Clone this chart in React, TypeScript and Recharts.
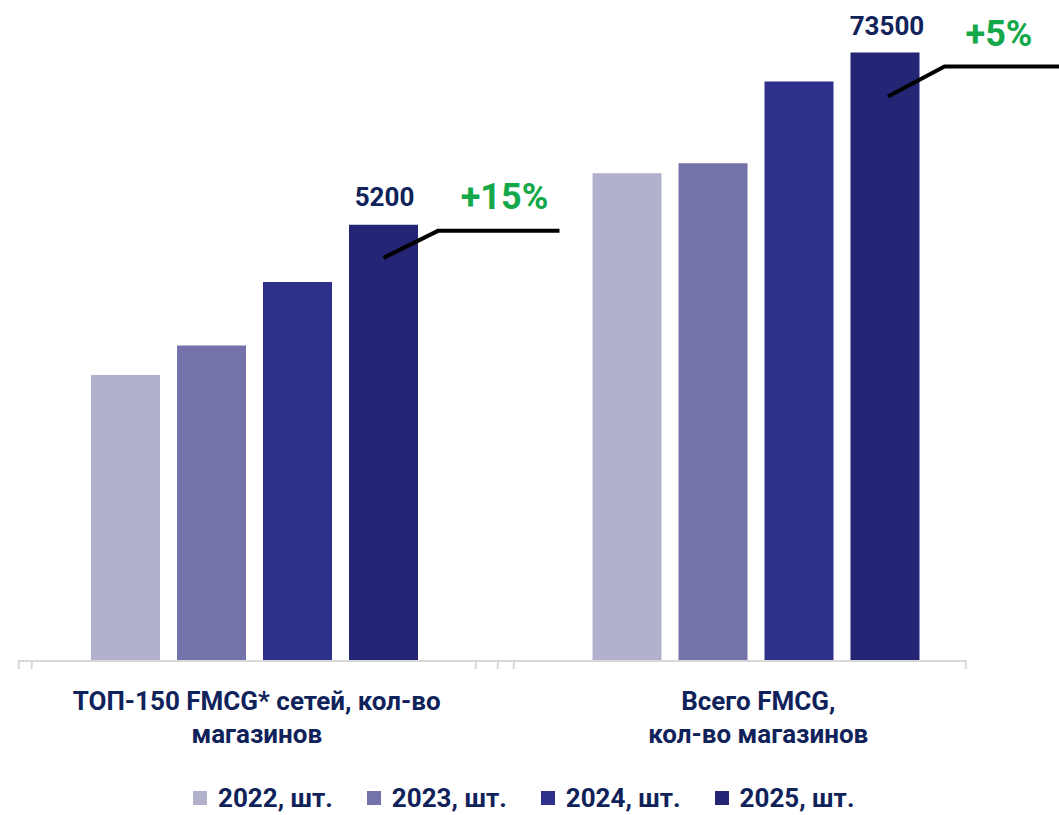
import { BarChart, Bar, XAxis, YAxis, Legend, LabelList } from "recharts";

const categoryLines = [
  ["ТОП-150 FMCG* сетей, кол-во", "магазинов"],
  ["Всего FMCG,", "кол-во магазинов"],
];
const years = ["2022", "2023", "2024", "2025"];
const stores2022 = [3410, 58900];
const stores2023 = [3760, 60100];
const stores2024 = [4520, 70000];
const stores2025 = [5200, 73500];
const growth = ["+15%", "+5%"];
// the TOP-150 group is drawn on a stretched scale in the original slide
const displayScale = [10.13, 1];

const colors = ["#B1B1CD", "#7372AA", "#2F2F8C", "#252575"];
const TEXT = "#0F2259";
const GREEN = "#14A84B";
const FONT = "Roboto, 'Liberation Sans', sans-serif";

const series = [stores2022, stores2023, stores2024, stores2025];

const data = categoryLines.map((lines, i) => {
  const row: Record<string, any> = { name: lines.join(" "), idx: i };
  years.forEach((y, s) => {
    row["v" + y] = series[s][i];
    row["y" + y] = series[s][i] * displayScale[i];
  });
  return row;
});

function CategoryTick(props: any) {
  const { x, y, payload, index } = props;
  const lines = categoryLines[index] ?? [payload.value];
  return (
    <g>
      {index === 0 && (
        <g stroke="#D9D9D9" strokeWidth={2}>
          <line x1={x - 237} x2={x + 712} y1={y} y2={y} />
          {[-236, -223, 221, 243, 259, 711].map((d) => (
            <line key={d} x1={x + d} x2={x + d} y1={y} y2={y + 8} />
          ))}
        </g>
      )}
      <text
        x={x}
        y={y + 49}
        textAnchor="middle"
        fill={TEXT}
        fontSize={26}
        fontWeight={700}
        fontFamily={FONT}
      >
        {lines.map((l, k) => (
          <tspan key={k} x={x + 2} dy={k === 0 ? 0 : 33}>
            {l}
          </tspan>
        ))}
      </text>
    </g>
  );
}

function GrowthLabel(props: any) {
  const { x, y, width, index } = props;
  const cx = x + width / 2;
  const i = index as number;
  const lay =
    i === 0
      ? { vDx: 1, vDy: -19, pDx: 121, pDy: -16, lx0: 0, ly0: 33, lx1: 20, ly1: 6, hEnd: 176 }
      : { vDx: 2, vDy: -17, pDx: 114, pDy: -6, lx0: 3, ly0: 44, lx1: 25, ly1: 14, hEnd: 180 };
  return (
    <g>
      <text
        x={cx + lay.vDx}
        y={y + lay.vDy}
        textAnchor="middle"
        fill={TEXT}
        fontSize={26}
        fontWeight={700}
        fontFamily={FONT}
      >
        {stores2025[i]}
      </text>
      <text
        x={cx + lay.pDx}
        y={y + lay.pDy}
        textAnchor="middle"
        fill={GREEN}
        fontSize={36}
        fontWeight={700}
        fontFamily={FONT}
      >
        {growth[i]}
      </text>
      <polyline
        points={`${cx + lay.lx0},${y + lay.ly0} ${x + width + lay.lx1},${y + lay.ly1} ${cx + lay.hEnd},${y + lay.ly1}`}
        fill="none"
        stroke="#000"
        strokeWidth={4}
      />
    </g>
  );
}

function LegendContent() {
  return (
    <div
      style={{
        display: "flex",
        alignItems: "center",
        height: 40,
        paddingLeft: 189,
        paddingTop: 6,
        boxSizing: "border-box",
        fontFamily: FONT,
        fontWeight: 700,
        fontSize: 26,
        color: TEXT,
      }}
    >
      {years.map((y, s) => (
        <div key={y} style={{ display: "flex", alignItems: "center", marginRight: 34 }}>
          <span
            style={{
              width: 14,
              height: 14,
              background: colors[s],
              display: "inline-block",
              marginRight: 11,
            }}
          />
          <span>{y}, шт.</span>
        </div>
      ))}
    </div>
  );
}

export default function App() {
  return (
    <div style={{ position: "absolute", left: 0, top: 0, background: "#fff" }}>
      <BarChart
        width={1059}
        height={815}
        data={data}
        margin={{ top: 40, right: 52, bottom: 0, left: 4 }}
        barSize={69}
        barGap={17}
      >
        <XAxis
          dataKey="name"
          axisLine={false}
          tickLine={false}
          tickSize={0}
          tickMargin={0}
          height={114}
          interval={0}
          tick={<CategoryTick />}
        />
        <YAxis hide domain={[0, 75000]} />
        <Legend verticalAlign="bottom" content={<LegendContent />} />
        {years.map((y, s) => (
          <Bar key={y} dataKey={"y" + y} fill={colors[s]} isAnimationActive={false}>
            {s === 3 && <LabelList dataKey={"y" + y} content={<GrowthLabel />} />}
          </Bar>
        ))}
      </BarChart>
    </div>
  );
}
